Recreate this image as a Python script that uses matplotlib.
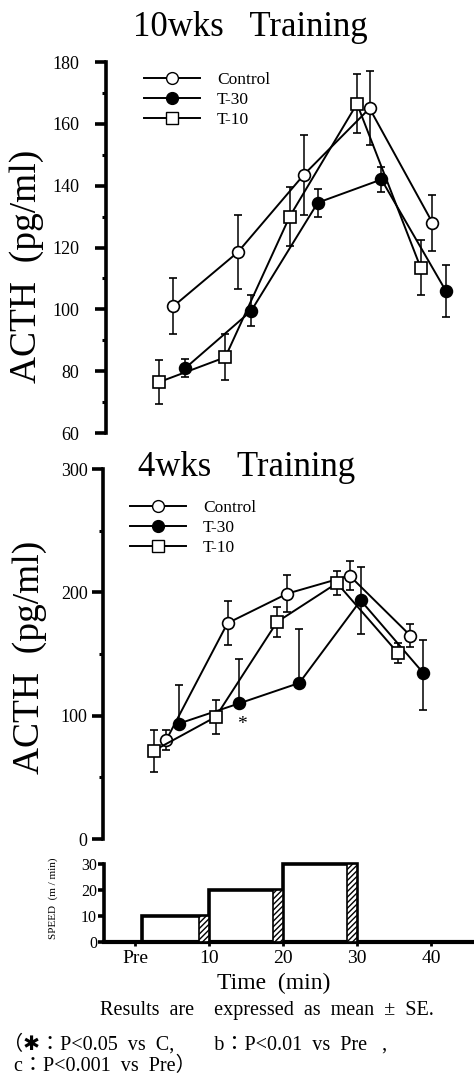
import matplotlib
matplotlib.use('Agg')
import matplotlib.pyplot as plt
from matplotlib.lines import Line2D

# ---------------- data ----------------
# 10 weeks training
top_ctrl_t = [5.2, 13.9, 22.8, 31.7, 40.2]
top_ctrl_v = [101, 118.5, 143.5, 165, 128]
top_ctrl_e = [9, 12, 13, 12, 9]
top_t30_t = [6.8, 15.7, 24.7, 33.3, 42.0]
top_t30_v = [81, 99.5, 134.5, 142, 106]
top_t30_e = [3, 5, 4.5, 4, 8.5]
top_t10_t = [3.3, 12.2, 20.9, 30.0, 38.6]
top_t10_v = [76.5, 84.5, 130, 166.5, 113.5]
top_t10_e = [7, 7.5, 9.5, 9.5, 9]

# 4 weeks training
bot_ctrl_t = [4.2, 12.5, 20.6, 29.0, 37.2]
bot_ctrl_v = [80, 175, 199, 213.5, 165]
bot_ctrl_e = [8, 18, 15, 12, 9]
bot_t30_t = [5.9, 14.1, 22.2, 30.5, 38.9]
bot_t30_v = [93.5, 110, 126.5, 193.5, 135]
bot_t30_elo = [0, 0, 0, 27, 30]
bot_t30_ehi = [31, 36, 44, 27, 26]
bot_t10_t = [2.5, 10.9, 19.2, 27.3, 35.5]
bot_t10_v = [71.5, 99, 176, 207.5, 151]
bot_t10_e = [17, 14, 12, 9.5, 8]
star_t, star_v = 14.4, 93

# treadmill speed protocol
speed_start = [1.0, 10, 20]
speed_end = [10, 20, 30]
speed_val = [10, 20, 30]
hatch_len = 1.4

xticks = [0, 10, 20, 30, 40]
xticklabels = ['Pre', '10', '20', '30', '40']
legend_labels = ['Control', 'T-30', 'T-10']

# ---------------- layout ----------------
W, H = 474, 1077
fig = plt.figure(figsize=(W / 100, H / 100), dpi=100)
SERIF = ['Liberation Serif', 'DejaVu Serif']
plt.rcParams['font.family'] = SERIF

X0PX, PXU = 135.0, 7.4  # pixel of t=0, pixels per minute


def make_ax(left_px, top_px, bot_px):
    ax = fig.add_axes([left_px / W, 1 - bot_px / H, (W - left_px) / W, (bot_px - top_px) / H])
    ax.set_xlim((left_px - X0PX) / PXU, (W - X0PX) / PXU)
    for s in ['top', 'right', 'bottom']:
        ax.spines[s].set_visible(False)
    ax.spines['left'].set_linewidth(2.6)
    ax.patch.set_alpha(0)
    return ax


common = dict(color='k', lw=1.4, ms=8.5, mec='k', mew=1.2, capsize=3.2,
              elinewidth=1.1, capthick=1.1)


def series(ax, t, v, elo, ehi, marker, filled):
    ax.errorbar(t, v, yerr=[elo, ehi], fmt='-' + marker,
                mfc='k' if filled else 'white', zorder=3, **common)


def legend(ax, x_px, y_px):
    handles = [
        Line2D([], [], color='k', lw=1.4, marker='o', ms=8.5, mfc='white', mec='k'),
        Line2D([], [], color='k', lw=1.4, marker='o', ms=8.5, mfc='k', mec='k'),
        Line2D([], [], color='k', lw=1.4, marker='s', ms=8.5, mfc='white', mec='k'),
    ]
    ax.legend(handles, legend_labels, loc='upper left', frameon=False,
              bbox_to_anchor=(x_px / W, 1 - y_px / H), bbox_transform=fig.transFigure,
              borderpad=0, borderaxespad=0, handlelength=3.2, handletextpad=1.0,
              labelspacing=0.22, numpoints=1, prop={'family': SERIF, 'size': 12.5})


# ---- top panel (10 wks) ----
ax1 = make_ax(106, 62, 433)
ax1.set_ylim(60, 180)
ax1.set_yticks([60, 80, 100, 120, 140, 160, 180])
ax1.set_yticks([70, 90, 110, 130, 150, 170], minor=True)
ax1.set_xticks([])
ax1.tick_params(axis='y', which='major', direction='out', length=8, width=2.6, labelsize=13, pad=11)
ax1.tick_params(axis='y', which='minor', direction='out', length=3, width=2.2)
series(ax1, top_ctrl_t, top_ctrl_v, top_ctrl_e, top_ctrl_e, 'o', False)
series(ax1, top_t30_t, top_t30_v, top_t30_e, top_t30_e, 'o', True)
series(ax1, top_t10_t, top_t10_v, top_t10_e, top_t10_e, 's', False)
legend(ax1, 144, 72)
fig.text(250 / W, 1 - 27 / H, '10wks   Training', ha='center', va='center', fontsize=25)
fig.text(27 / W, 1 - 266 / H, 'ACTH  (pg/ml)', ha='center', va='center', rotation=90, fontsize=27)

# ---- bottom panel (4 wks) ----
ax2 = make_ax(103, 469, 839)
ax2.set_ylim(0, 300)
ax2.set_yticks([0, 100, 200, 300])
ax2.set_yticks([50, 150, 250], minor=True)
ax2.set_xticks([])
ax2.tick_params(axis='y', which='major', direction='out', length=8, width=2.6, labelsize=13, pad=3)
ax2.tick_params(axis='y', which='minor', direction='out', length=3, width=2.2)
series(ax2, bot_ctrl_t, bot_ctrl_v, bot_ctrl_e, bot_ctrl_e, 'o', False)
series(ax2, bot_t30_t, bot_t30_v, bot_t30_elo, bot_t30_ehi, 'o', True)
series(ax2, bot_t10_t, bot_t10_v, bot_t10_e, bot_t10_e, 's', False)
ax2.text(star_t, star_v, '*', ha='center', va='center', fontsize=14)
legend(ax2, 130, 500)
fig.text(247 / W, 1 - 468 / H, '4wks   Training', ha='center', va='center', fontsize=25)
fig.text(30 / W, 1 - 657 / H, 'ACTH  (pg/ml)', ha='center', va='center', rotation=90, fontsize=27)

# ---- speed panel ----
ax3 = make_ax(104, 864, 942)
ax3.spines['bottom'].set_visible(True)
ax3.spines['bottom'].set_linewidth(3)
ax3.set_ylim(0, 30)
ax3.set_yticks([0, 10, 20, 30])
ax3.tick_params(axis='y', direction='out', length=4, width=2.6, labelsize=11.5, pad=1)
ax3.set_xticks(xticks)
ax3.set_xticklabels(xticklabels)
ax3.tick_params(axis='x', direction='out', length=3, width=2, labelsize=14, pad=3)
for s, e, v in zip(speed_start, speed_end, speed_val):
    ax3.bar(s, v, width=e - s, align='edge', facecolor='white', edgecolor='k',
            linewidth=2.6, clip_on=False, zorder=2)
    ax3.bar(e - hatch_len, v, width=hatch_len, align='edge', facecolor='white',
            edgecolor='k', linewidth=1.2, hatch='//////', clip_on=False, zorder=3)
fig.text(274 / W, 1 - 983 / H, 'Time  (min)', ha='center', va='center', fontsize=17)
fig.text(53 / W, 1 - 898 / H, 'SPEED  (m / min)', ha='center', va='center', rotation=90, fontsize=8)

# ---- footer ----
fig.text(267 / W, 1 - 1011 / H, 'Results  are    expressed  as  mean  ±  SE.', ha='center', va='center',
         fontsize=14.5)
FOOT = ['Liberation Serif', 'Noto Sans CJK JP', 'DejaVu Sans']
fig.text(3 / W, 1 - 1044 / H, '（✱：P<0.05  vs  C,        b：P<0.01  vs  Pre   ,', ha='left', va='center',
         fontsize=14.5, family=FOOT)
fig.text(14 / W, 1 - 1066 / H, 'c：P<0.001  vs  Pre）', ha='left', va='center', fontsize=14.5, family=FOOT)

fig.savefig('out.png', dpi=100)
